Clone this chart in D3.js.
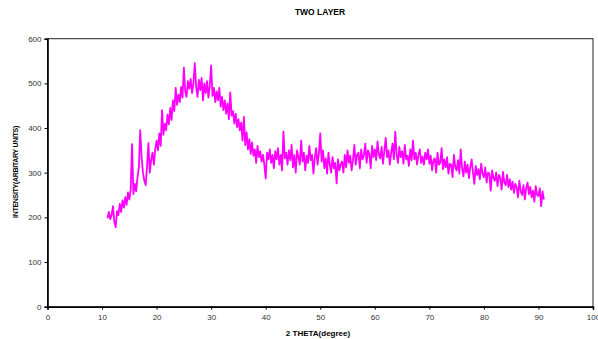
<!DOCTYPE html>
<html>
<head>
<meta charset="utf-8">
<script src="https://cdn.jsdelivr.net/npm/d3@7"></script>
<style>
  body { margin: 0; background: #fff; }
  svg text { font-family: "Liberation Sans", Arial, sans-serif; }
</style>
</head>
<body>
<div id="chart"></div>
<script>
// scan: 11 -> 91 deg, step 0.25 (one row = one degree)
const thetaStart = 11;
const thetaStep = 0.25;
const intensity = [
  198, 212, 196, 205,  225, 190, 178, 214,  205, 230, 212, 238,  222, 245, 228, 256,
  240, 262, 364, 252,  275, 258, 290, 312,  395, 335, 300, 282,  272, 315, 366, 300,
  328, 345, 318, 352,  372, 350, 388, 360,  440, 385, 410, 395,  430, 408, 445, 418,
  462, 438, 490, 452,  475, 458, 492, 468,  535, 482, 470, 505,  488, 510, 478, 500,
  545, 492, 470, 508,  485, 512, 462, 500,  478, 505, 468, 495,  540, 472, 490, 458,
  482, 462, 490, 448,  470, 440, 462, 432,  455, 420, 480, 428,  438, 410, 432, 402,
  420, 395, 412, 372,  425, 362, 390, 352,  375, 342, 368, 338,  352, 322, 360, 335,
  348, 325, 340, 318,  287, 345, 330, 352,  322, 340, 310, 348,  330, 355, 318, 340,
  305, 392, 332, 345,  318, 350, 328, 362,  312, 340, 300, 350,  335, 318, 372, 325,
  345, 305, 338, 322,  360, 328, 340, 298,  335, 355, 318, 342,  388, 325, 350, 310,
  332, 298, 345, 318,  300, 335, 310, 322,  276, 330, 305, 318,  325, 300, 340, 312,
  350, 322, 338, 305,  328, 362, 318, 340,  345, 310, 352, 330,  338, 365, 322, 350,
  342, 310, 360, 335,  352, 328, 370, 340,  332, 358, 320, 348,  378, 335, 350, 318,
  345, 365, 330, 392,  340, 322, 358, 335,  348, 320, 362, 330,  338, 315, 352, 328,
  372, 330, 345, 318,  340, 352, 322, 336,  318, 345, 330, 352,  320, 338, 305, 328,
  332, 300, 345, 318,  322, 355, 308, 330,  312, 335, 298, 320,  318, 290, 340, 312,
  305, 328, 298, 352,  310, 292, 325, 300,  318, 288, 312, 330,  300, 275, 315, 295,
  308, 285, 320, 298,  290, 312, 278, 300,  298, 260, 305, 288,  282, 300, 270, 295,
  288, 262, 302, 278,  272, 295, 268, 285,  262, 280, 255, 275,  268, 245, 282, 258,
  250, 272, 240, 265,  278, 252, 268, 245,  260, 235, 270, 250,  248, 265, 225, 258,
  240
];
const xTicks = [0, 10, 20, 30, 40, 50, 60, 70, 80, 90, 100];
const yTicks = [0, 100, 200, 300, 400, 500, 600];

const width = 598, height = 339;
const margin = { left: 47.5, right: 5, top: 38.7, bottom: 32.3 };

const svg = d3.select('#chart')
  .append('svg')
  .attr('width', width)
  .attr('height', height);

const x = d3.scaleLinear().domain([0, 100]).range([margin.left, width - margin.right]);
const y = d3.scaleLinear().domain([0, 600]).range([height - margin.bottom, margin.top]);

const data = intensity.map((v, i) => ({ t: thetaStart + i * thetaStep, v }));

// frame
svg.append('rect')
  .attr('x', x(0)).attr('y', y(600))
  .attr('width', x(100) - x(0)).attr('height', y(0) - y(600))
  .attr('fill', 'none').attr('stroke', '#222').attr('stroke-width', 1);

const xAxis = svg.append('g')
  .attr('transform', `translate(0,${y(0)})`)
  .call(d3.axisBottom(x).tickValues(xTicks).tickSize(3).tickPadding(5));
const yAxis = svg.append('g')
  .attr('transform', `translate(${x(0)},0)`)
  .call(d3.axisLeft(y).tickValues(yTicks).tickSize(3).tickPadding(3));

[xAxis, yAxis].forEach(g => {
  g.select('.domain').attr('stroke', '#000').attr('stroke-width', 1.6);
  g.selectAll('.tick line').attr('stroke', '#000');
  g.selectAll('.tick text').attr('font-size', 8).attr('fill', '#333')
    .style('font-family', '"Liberation Sans", Arial, sans-serif');
});

const line = d3.line()
  .x(d => x(d.t))
  .y(d => y(d.v));

svg.append('path')
  .datum(data)
  .attr('d', line)
  .attr('fill', 'none')
  .attr('stroke', '#ff00ff')
  .attr('stroke-width', 1.8)
  .attr('stroke-linejoin', 'round');

svg.append('text')
  .attr('x', 320).attr('y', 15)
  .attr('text-anchor', 'middle')
  .attr('font-size', 8.5).attr('font-weight', 'bold')
  .text('TWO LAYER');

svg.append('text')
  .attr('x', 318).attr('y', 336)
  .attr('text-anchor', 'middle')
  .attr('font-size', 8).attr('font-weight', 'bold')
  .text('2 THETA(degree)');

svg.append('text')
  .attr('transform', 'translate(18,172) rotate(-90)')
  .attr('text-anchor', 'middle')
  .attr('font-size', 7).attr('font-weight', 'bold')
  .attr('letter-spacing', -0.3)
  .text('INTENSITY(ARBITARY UNITS)');
</script>
</body>
</html>
